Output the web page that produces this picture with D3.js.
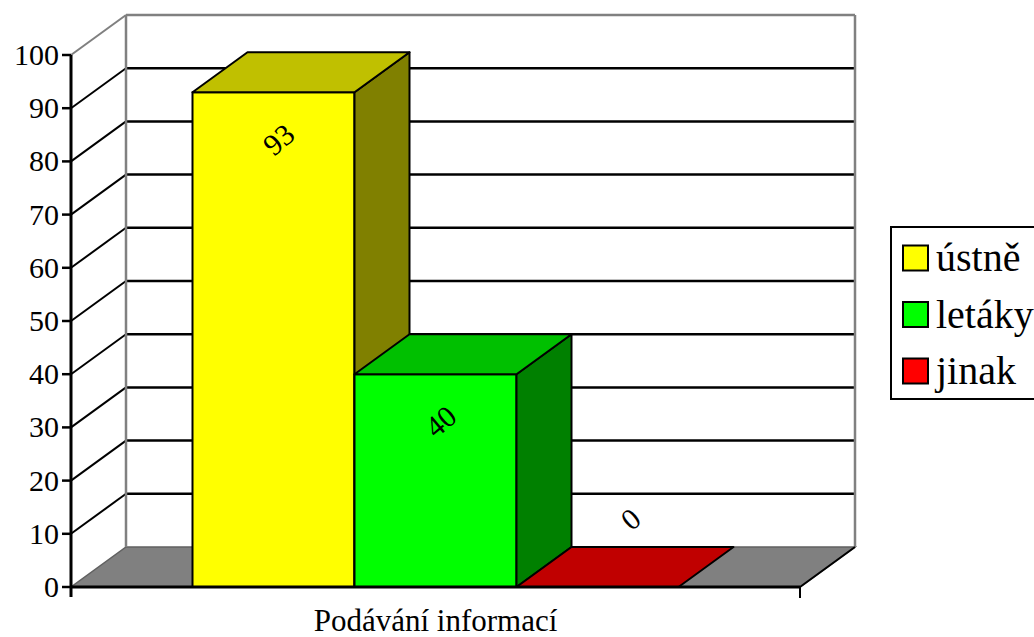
<!DOCTYPE html>
<html>
<head>
<meta charset="utf-8">
<script src="https://cdn.jsdelivr.net/npm/d3@7"></script>
<style>
  @font-face {
    font-family: "ChartSerif";
    src: local("Liberation Serif"), local("LiberationSerif"), local("LiberationSerif-Regular"),
         local("Tinos"), local("Tinos-Regular"), local("Times New Roman");
  }
</style>
</head>
<body style="margin:0">
<svg id="chart" width="1034" height="637"></svg>
<script>
// Survey answers: how information is passed on
const category = "Podávání informací";
const seriesNames = ["ústně", "letáky", "jinak"];
const seriesValues = [93, 40, 0];
const yTicks = [0, 10, 20, 30, 40, 50, 60, 70, 80, 90, 100];

const frontColors = ["#ffff00", "#00ff00", "#ff0000"];
const topColors   = ["#c0c000", "#00c000", "#c00000"];
const sideColors  = ["#808000", "#008000", "#800000"];

const FONT = '"Liberation Serif", "ChartSerif", "Tinos", "Nimbus Roman", "FreeSerif"';

const svg = d3.select("#chart");

// Plot frame (front plane) and the 3D depth offset
const left = 71, right = 800, bottom = 587, topY = 55;
const dx = 55, dy = -40;

const y = d3.scaleLinear().domain([0, 100]).range([bottom, topY]);
const xCat = d3.scaleBand().domain([category]).range([left, right]);
const xSeries = d3.scaleBand()
  .domain(seriesNames)
  .range([xCat(category), xCat(category) + xCat.bandwidth()])
  .paddingInner(0)
  .paddingOuter(0.75);

const line = d3.line();

// Floor
svg.append("path")
  .attr("d", line([[left, bottom], [right, bottom], [right + dx, bottom + dy], [left + dx, bottom + dy]]) + "Z")
  .attr("fill", "#808080")
  .attr("stroke", "#606060")
  .attr("stroke-width", 1.5);

// Back wall gridlines plus their diagonals on the side wall
yTicks.forEach(t => {
  if (t === 0) return;
  const c = t === 100 ? "#808080" : "#000";
  svg.append("line")
    .attr("x1", left + dx).attr("x2", right + dx)
    .attr("y1", y(t) + dy).attr("y2", y(t) + dy)
    .attr("stroke", c).attr("stroke-width", 2.5);
  svg.append("line")
    .attr("x1", left).attr("y1", y(t))
    .attr("x2", left + dx).attr("y2", y(t) + dy)
    .attr("stroke", c).attr("stroke-width", 2);
});

// Wall edges
[left + dx, right + dx].forEach(xe => {
  svg.append("line")
    .attr("x1", xe).attr("x2", xe)
    .attr("y1", y(100) + dy).attr("y2", y(0) + dy)
    .attr("stroke", "#808080").attr("stroke-width", 2.5);
});

// Floor right edge
svg.append("line")
  .attr("x1", right).attr("y1", bottom)
  .attr("x2", right + dx).attr("y2", bottom + dy)
  .attr("stroke", "#000").attr("stroke-width", 2);

// 3D bars
seriesNames.forEach((name, i) => {
  const v = seriesValues[i];
  const x0 = xSeries(name), x1 = x0 + xSeries.bandwidth();
  const yt = y(v), yb = y(0);
  const faces = [];
  if (v > 0) {
    faces.push({ pts: [[x0, yb], [x1, yb], [x1, yt], [x0, yt]], fill: frontColors[i] });
    faces.push({ pts: [[x1, yb], [x1 + dx, yb + dy], [x1 + dx, yt + dy], [x1, yt]], fill: sideColors[i] });
  }
  faces.push({ pts: [[x0, yt], [x1, yt], [x1 + dx, yt + dy], [x0 + dx, yt + dy]], fill: topColors[i] });
  faces.forEach(f => {
    svg.append("path")
      .attr("d", line(f.pts) + "Z")
      .attr("fill", f.fill)
      .attr("stroke", "#000").attr("stroke-width", 2).attr("stroke-linejoin", "round");
  });
});

// Value labels
seriesNames.forEach((name, i) => {
  const v = seriesValues[i];
  const cx = xSeries(name) + xSeries.bandwidth() / 2;
  const lx = v > 0 ? cx + 5 : cx + 33;
  const ly = v > 0 ? y(v) + 47 : y(v) - 68;
  svg.append("text")
    .style("font-family", FONT)
    .attr("font-size", 30)
    .attr("text-anchor", "middle")
    .attr("dy", "0.35em")
    .attr("transform", `translate(${lx},${ly}) rotate(-40)`)
    .text(String(v));
});

// Y axis
svg.append("line")
  .attr("x1", left).attr("x2", left)
  .attr("y1", y(100)).attr("y2", bottom + 10)
  .attr("stroke", "#000").attr("stroke-width", 3);
yTicks.forEach(t => {
  svg.append("line")
    .attr("x1", left - 9).attr("x2", left)
    .attr("y1", y(t)).attr("y2", y(t))
    .attr("stroke", "#000").attr("stroke-width", 2.5);
  svg.append("text")
    .style("font-family", FONT)
    .attr("font-size", 30)
    .attr("text-anchor", "end")
    .attr("x", left - 12).attr("y", y(t) + 10)
    .text(String(t));
});

// X axis
svg.append("line")
  .attr("x1", left).attr("x2", right)
  .attr("y1", bottom).attr("y2", bottom)
  .attr("stroke", "#000").attr("stroke-width", 3);
svg.append("line")
  .attr("x1", right).attr("x2", right)
  .attr("y1", bottom).attr("y2", bottom + 11)
  .attr("stroke", "#000").attr("stroke-width", 2);
svg.append("text")
  .style("font-family", FONT)
  .attr("font-size", 31)
  .attr("text-anchor", "middle")
  .attr("x", xCat(category) + xCat.bandwidth() / 2)
  .attr("y", 631)
  .text(category);

// Legend
svg.append("rect")
  .attr("x", 891).attr("y", 227)
  .attr("width", 160).attr("height", 172)
  .attr("fill", "#fff").attr("stroke", "#000").attr("stroke-width", 2);
const legendY = d3.scalePoint().domain(seriesNames).range([258, 371]);
seriesNames.forEach((name, i) => {
  const cy = legendY(name);
  svg.append("rect")
    .attr("x", 903).attr("y", cy - 12.5)
    .attr("width", 25).attr("height", 25)
    .attr("fill", frontColors[i]).attr("stroke", "#000").attr("stroke-width", 2);
  svg.append("text")
    .style("font-family", FONT)
    .attr("font-size", 40)
    .attr("x", 936).attr("y", cy + 13)
    .text(name);
});
</script>
</body>
</html>
